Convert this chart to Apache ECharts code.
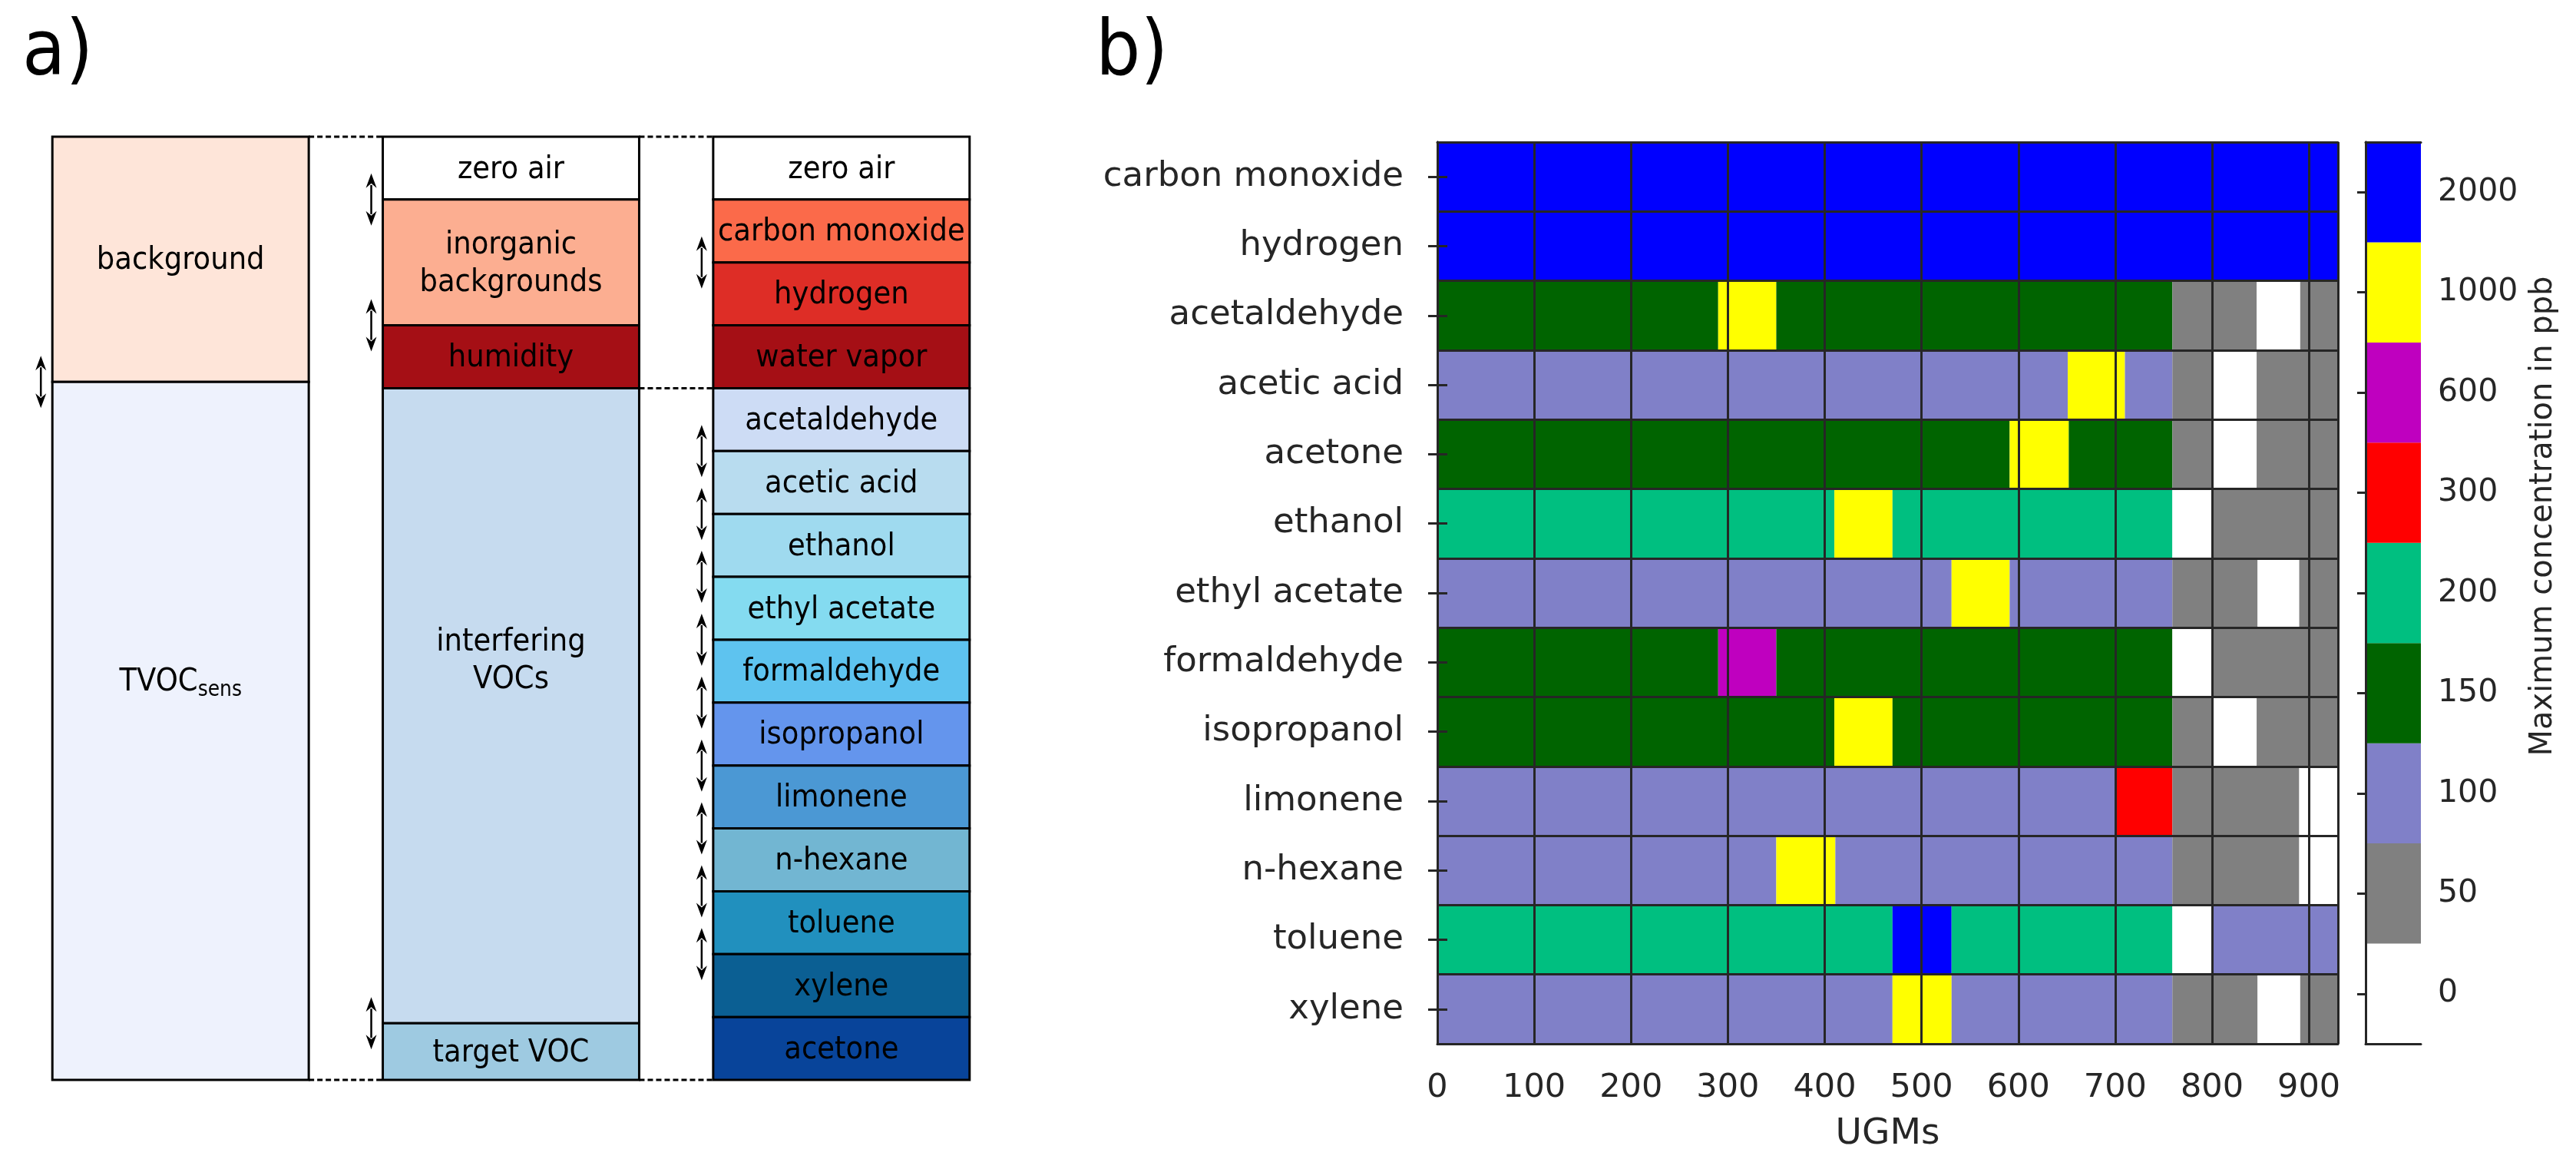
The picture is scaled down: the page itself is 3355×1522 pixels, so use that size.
<!DOCTYPE html>
<html><head><meta charset="utf-8">
<script src="https://cdn.jsdelivr.net/npm/echarts@6/dist/echarts.min.js"></script>
<style>html,body{margin:0;padding:0;background:#fff}#c{width:3355px;height:1522px}</style>
</head><body><div id="c"></div>
<script>
// ================= panel a) data (box heights in arbitrary stack units) =================
const col1Names = ['background', '{m|TVOC}{s|sens}'];
const col1Heights = [3.9, 11.1];
const col1Colors = ['#fee5d9', '#eef2fd'];
const col2Names = ['zero air', 'inorganic\nbackgrounds', 'humidity', 'interfering\nVOCs', 'target VOC'];
const col2Heights = [1, 2, 1, 10.1, 0.9];
const col2Colors = ['#ffffff', '#fcae91', '#a50f15', '#c6dbef', '#9ecae1'];
const col3Names = ['zero air', 'carbon monoxide', 'hydrogen', 'water vapor', 'acetaldehyde', 'acetic acid',
  'ethanol', 'ethyl acetate', 'formaldehyde', 'isopropanol', 'limonene', 'n-hexane', 'toluene', 'xylene', 'acetone'];
const col3Heights = [1, 1, 1, 1, 1, 1, 1, 1, 1, 1, 1, 1, 1, 1, 1];
const col3Colors = ['#ffffff', '#fb6a4a', '#de2d26', '#a50f15', '#cddcf5', '#b8dcef', '#9fdaef', '#84dbf0',
  '#5ec3ef', '#6495ed', '#4b98d4', '#72b6d2', '#2190be', '#0b5f93', '#08449a'];
const col1Arrows = [3.9];
const col2Arrows = [1, 3, 14.1];
const col3Arrows = [2, 5, 6, 7, 8, 9, 10, 11, 12, 13];
const dashedLinks = [[0, 1, 0], [0, 1, 15], [1, 2, 0], [1, 2, 4], [1, 2, 15]];

// ================= panel b) data =================
const compounds = ['carbon monoxide', 'hydrogen', 'acetaldehyde', 'acetic acid', 'acetone', 'ethanol',
  'ethyl acetate', 'formaldehyde', 'isopropanol', 'limonene', 'n-hexane', 'toluene', 'xylene'];
const concLevels = [0, 50, 100, 150, 200, 300, 600, 1000, 2000];
const levelColors = ['#ffffff', '#808080', '#8080c8', '#006400', '#00bf80', '#ff0000', '#bf00bf', '#ffff00', '#0000ff'];
const ugmMax = 930;
// segments: [first UGM, last UGM, maximum concentration in ppb]
const segCarbonMonoxide = [[0, 930, 2000]];
const segHydrogen = [[0, 930, 2000]];
const segAcetaldehyde = [[0, 290, 150], [290, 350, 1000], [350, 759, 150], [759, 846, 50], [846, 891, 0], [891, 930, 50]];
const segAceticAcid = [[0, 651, 100], [651, 710, 1000], [710, 759, 100], [759, 800, 50], [800, 846, 0], [846, 930, 50]];
const segAcetone = [[0, 591, 150], [591, 652, 1000], [652, 759, 150], [759, 800, 50], [800, 846, 0], [846, 930, 50]];
const segEthanol = [[0, 410, 200], [410, 470, 1000], [470, 759, 200], [759, 800, 0], [800, 930, 50]];
const segEthylAcetate = [[0, 531, 100], [531, 591, 1000], [591, 759, 100], [759, 847, 50], [847, 890, 0], [890, 930, 50]];
const segFormaldehyde = [[0, 290, 150], [290, 350, 600], [350, 759, 150], [759, 800, 0], [800, 930, 50]];
const segIsopropanol = [[0, 410, 150], [410, 470, 1000], [470, 759, 150], [759, 800, 50], [800, 846, 0], [846, 930, 50]];
const segLimonene = [[0, 700, 100], [700, 759, 300], [759, 890, 50], [890, 930, 0]];
const segHexane = [[0, 350, 100], [350, 411, 1000], [411, 759, 100], [759, 890, 50], [890, 930, 0]];
const segToluene = [[0, 470, 200], [470, 531, 2000], [531, 759, 200], [759, 800, 0], [800, 930, 100]];
const segXylene = [[0, 470, 100], [470, 531, 1000], [531, 759, 100], [759, 847, 50], [847, 891, 0], [891, 930, 50]];
const rowSegments = [segCarbonMonoxide, segHydrogen, segAcetaldehyde, segAceticAcid, segAcetone, segEthanol,
  segEthylAcetate, segFormaldehyde, segIsopropanol, segLimonene, segHexane, segToluene, segXylene];

// ================= build =================
const FONT = 'DejaVu Sans';
const DARK = '#262626';
const BOX_FRAC = 0.776;
const TEXT_STRETCH = 1.1;

const boxes = [];
[[col1Names, col1Heights, col1Colors], [col2Names, col2Heights, col2Colors], [col3Names, col3Heights, col3Colors]]
  .forEach(([names, hs, cols], ci) => {
    let acc = 0;
    names.forEach((n, i) => {
      boxes.push({ value: [ci, acc, acc + hs[i]], label: n, color: cols[i] });
      acc += hs[i];
    });
  });
const arrows = [];
[col1Arrows, col2Arrows, col3Arrows].forEach((arr, ci) => arr.forEach(v => arrows.push([ci, v])));

const cells = [];
rowSegments.forEach((segs, r) => segs.forEach(s => cells.push([r, s[0], s[1], s[2]])));

function renderBox(params, api) {
  const b = boxes[params.dataIndex];
  const p0 = api.coord([b.value[0], b.value[1]]);
  const p1 = api.coord([b.value[0], b.value[2]]);
  const bw = api.size([1, 0])[0] * BOX_FRAC;
  const h = p1[1] - p0[1];
  const tall = (b.value[2] - b.value[1]) > 5;
  const ty = tall ? p0[1] + h * 0.43 : p0[1] + h / 2 + 2;
  return {
    type: 'group', children: [
      { type: 'rect', shape: { x: p0[0] - bw / 2, y: p0[1], width: bw, height: h },
        style: { fill: b.color, stroke: '#000', lineWidth: 3 } },
      { type: 'text', x: p0[0], y: ty, scaleY: TEXT_STRETCH,
        style: { x: 0, y: 0, text: b.label, align: 'center', verticalAlign: 'middle',
        fontSize: 37, fontFamily: FONT, fill: '#000', lineHeight: 44,
        rich: { m: { fontSize: 37, fontFamily: FONT, fill: '#000', lineHeight: 44 },
                s: { fontSize: 25, fontFamily: FONT, fill: '#000', lineHeight: 26, verticalAlign: 'bottom' } } } }
    ]
  };
}
function renderArrow(params, api) {
  const p = api.coord([api.value(0), api.value(1)]);
  const bw = api.size([1, 0])[0] * BOX_FRAC;
  const x = p[0] - bw / 2 - 15, y = p[1], H = 34, hl = 19, hw = 7;
  return {
    type: 'group', children: [
      { type: 'line', shape: { x1: x, y1: y - H + hl - 4, x2: x, y2: y + H - hl + 4 }, style: { stroke: '#000', lineWidth: 2.5 } },
      { type: 'polygon', shape: { points: [[x, y - H], [x - hw, y - H + hl], [x, y - H + hl - 6], [x + hw, y - H + hl]] }, style: { fill: '#000' } },
      { type: 'polygon', shape: { points: [[x, y + H], [x - hw, y + H - hl], [x, y + H - hl + 6], [x + hw, y + H - hl]] }, style: { fill: '#000' } }
    ]
  };
}
function renderDash(params, api) {
  const p = api.coord([api.value(0), api.value(2)]);
  const q = api.coord([api.value(1), api.value(2)]);
  const bw = api.size([1, 0])[0] * BOX_FRAC;
  return { type: 'line', shape: { x1: p[0] + bw / 2, y1: p[1], x2: q[0] - bw / 2, y2: q[1] },
    style: { stroke: '#000', lineWidth: 3, lineDash: [7, 4] } };
}
function renderCell(params, api) {
  const row = api.value(0);
  const p0 = api.coord([api.value(1), row]);
  const p1 = api.coord([api.value(2), row]);
  const h = api.size([0, 1])[1];
  const lvl = api.value(3);
  return { type: 'rect', shape: { x: p0[0], y: p0[1] - h / 2, width: p1[0] - p0[0], height: h },
    style: { fill: levelColors[concLevels.indexOf(lvl)], stroke: null } };
}

const axisLineStyle = { color: DARK, width: 3 };
const hidden = { show: false };

const option = {
  backgroundColor: '#ffffff',
  animation: false,
  textStyle: { fontFamily: FONT },
  graphic: [
    { type: 'text', x: 29, y: 71, scaleY: 1.08, style: { text: 'a)', fontSize: 92, fontFamily: FONT, fill: '#000', verticalAlign: 'middle' } },
    { type: 'text', x: 1427, y: 71, scaleY: 1.08, style: { text: 'b)', fontSize: 92, fontFamily: FONT, fill: '#000', verticalAlign: 'middle' } }
  ],
  grid: [
    { left: 20, top: 178, width: 1291, height: 1228 },
    { left: 1872, top: 185, width: 1173, height: 1174 },
    { left: 3081, top: 185, width: 72, height: 1174 }
  ],
  xAxis: [
    { gridIndex: 0, type: 'category', data: ['', '', ''], show: false },
    { gridIndex: 1, type: 'value', min: 0, max: ugmMax, interval: 100, position: 'bottom', z: 10,
      axisLine: { show: true, lineStyle: axisLineStyle }, axisTick: hidden,
      axisLabel: { fontSize: 43, color: DARK, margin: 36, showMaxLabel: false, fontFamily: FONT },
      splitLine: { show: true, lineStyle: { color: DARK, width: 3 } },
      name: 'UGMs', nameLocation: 'middle', nameGap: 94,
      nameTextStyle: { fontSize: 47, color: DARK, fontFamily: FONT } },
    { gridIndex: 1, type: 'value', min: 0, max: ugmMax, position: 'top', z: 10,
      axisLine: { show: true, lineStyle: axisLineStyle }, axisTick: hidden, axisLabel: hidden, splitLine: hidden },
    { gridIndex: 2, type: 'value', min: 0, max: 1, position: 'bottom', z: 10,
      axisLine: { show: true, lineStyle: axisLineStyle }, axisTick: hidden, axisLabel: hidden, splitLine: hidden },
    { gridIndex: 2, type: 'value', min: 0, max: 1, position: 'top', z: 10,
      axisLine: { show: true, lineStyle: axisLineStyle }, axisTick: hidden, axisLabel: hidden, splitLine: hidden }
  ],
  yAxis: [
    { gridIndex: 0, type: 'value', min: 0, max: 15, inverse: true, show: false },
    { gridIndex: 1, type: 'category', data: compounds, inverse: true, position: 'left', z: 10,
      axisLine: { show: true, lineStyle: axisLineStyle },
      axisTick: { show: true, inside: true, alignWithLabel: true, length: 13, interval: 0, lineStyle: { color: DARK, width: 3 } },
      axisLabel: { fontSize: 45, color: DARK, margin: 44, interval: 0, fontFamily: FONT },
      splitLine: { show: true, interval: 0, lineStyle: { color: DARK, width: 3 } } },
    { gridIndex: 1, type: 'category', data: compounds, inverse: true, position: 'right', z: 10,
      axisLine: { show: true, lineStyle: axisLineStyle },
      axisTick: { show: true, inside: true, alignWithLabel: true, length: 12, interval: 0, lineStyle: { color: DARK, width: 3 } },
      axisLabel: hidden, splitLine: hidden },
    { gridIndex: 2, type: 'category', data: concLevels.map(String), position: 'right', z: 10,
      axisLine: { show: true, lineStyle: axisLineStyle },
      axisTick: { show: true, inside: true, alignWithLabel: true, length: 11, interval: 0, lineStyle: { color: DARK, width: 3 } },
      axisLabel: { fontSize: 41, color: DARK, margin: 22, interval: 0, fontFamily: FONT },
      splitLine: hidden,
      name: 'Maximum concentration in ppb', nameLocation: 'middle', nameRotate: 90, nameGap: 140,
      nameTextStyle: { fontSize: 40, color: DARK, fontFamily: FONT, padding: [0, 0, 0, 200] } },
    { gridIndex: 2, type: 'category', data: concLevels.map(String), position: 'left', z: 10,
      axisLine: { show: true, lineStyle: axisLineStyle }, axisTick: hidden, axisLabel: hidden, splitLine: hidden }
  ],
  series: [
    { type: 'custom', xAxisIndex: 0, yAxisIndex: 0, renderItem: renderBox,
      data: boxes.map(b => b.value), encode: { x: 0, y: [1, 2] }, silent: true, z: 2 },
    { type: 'custom', xAxisIndex: 0, yAxisIndex: 0, renderItem: renderDash,
      data: dashedLinks, encode: { x: [0, 1], y: 2 }, silent: true, z: 3 },
    { type: 'custom', xAxisIndex: 0, yAxisIndex: 0, renderItem: renderArrow,
      data: arrows, encode: { x: 0, y: 1 }, silent: true, z: 3 },
    { type: 'custom', xAxisIndex: 1, yAxisIndex: 1, renderItem: renderCell,
      data: cells, encode: { x: [1, 2], y: 0 }, silent: true, z: 2 },
    { type: 'bar', xAxisIndex: 3, yAxisIndex: 3, barWidth: '100%', silent: true, z: 2,
      data: levelColors.map(c => ({ value: 1, itemStyle: { color: c } })) }
  ]
};
const chart = echarts.init(document.getElementById('c'), null, { renderer: 'canvas' });
chart.setOption(option);
</script></body></html>
